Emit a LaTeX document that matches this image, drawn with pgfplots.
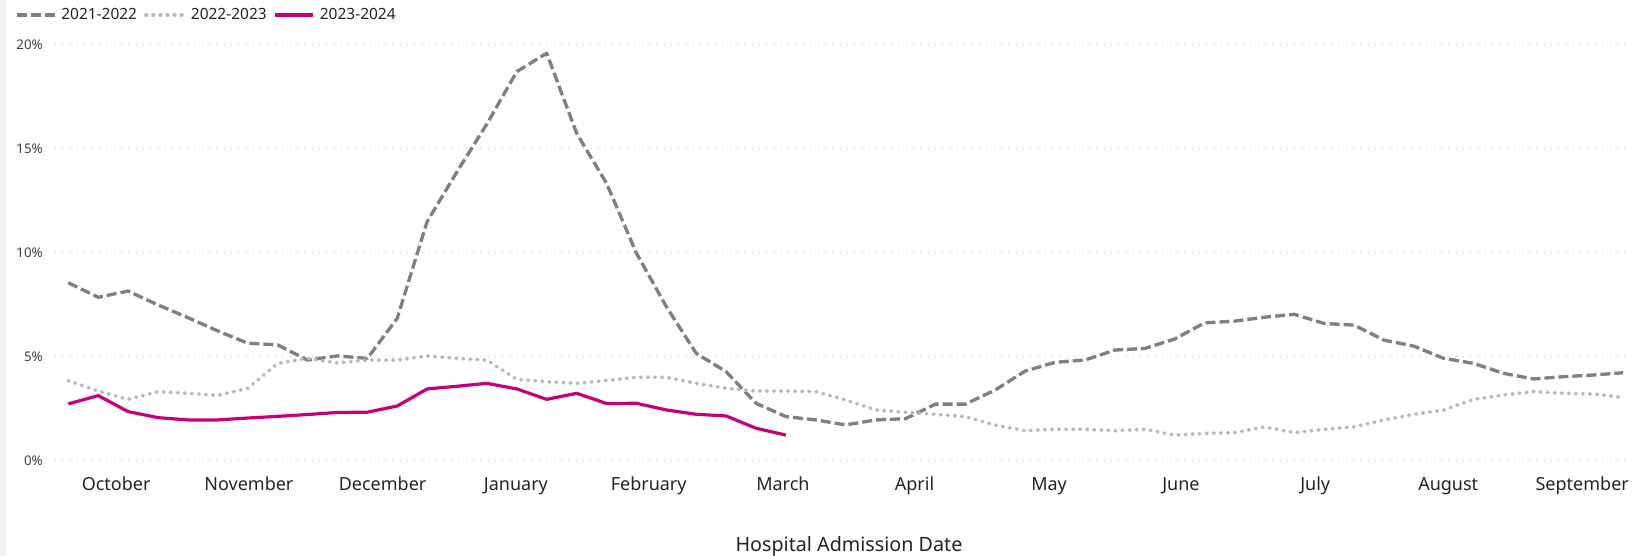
\documentclass[border=0pt]{standalone}
\usepackage{fontspec}
\setmainfont{Noto Sans}
\usepackage{pgfplots}
\pgfplotsset{compat=1.18}
\definecolor{cA}{HTML}{808080}
\definecolor{cB}{HTML}{B8B8B8}
\definecolor{cC}{HTML}{C80078}
\definecolor{gridc}{HTML}{C8C8C8}
\definecolor{strip}{HTML}{F0F1F3}
\definecolor{txt}{HTML}{252423}
\definecolor{tick}{HTML}{404040}
\begin{document}
\begin{tikzpicture}
\useasboundingbox (-41.25pt,-71.5pt) rectangle (1185pt,345.5pt);
\fill[strip] (-41.25pt,-71.5pt) rectangle (-36.75pt,345.5pt);
\begin{axis}[
  at={(0pt,0pt)}, anchor=south west, scale only axis,
  width=1181.25pt, height=311.8pt,
  xmin=-0.445, xmax=52.23, ymin=0, ymax=20,
  clip=false,
  axis line style={draw=none},
  major tick length=0pt, tick style={draw=none},
  ytick={0,5,10,15,20},
  yticklabels={0\%,5\%,10\%,15\%,20\%},
  yticklabel style={anchor=east, inner sep=0pt, xshift=-9pt, font=\fontsize{10}{12}\selectfont, text=tick},
  xtick={1.60,6.04,10.51,14.97,19.41,23.90,28.30,32.80,37.21,41.70,46.15,50.63},
  xticklabels={October,November,December,January,February,March,April,May,June,July,August,September},
  xticklabel style={anchor=base, inner sep=0pt, yshift=-22.7pt, font=\fontsize{13.5}{16}\selectfont, text=txt},
  ymajorgrids,
  grid style={color=gridc, line width=0.8pt, dash pattern=on 0.8pt off 4.7pt},
  xlabel={Hospital Admission Date},
  xlabel style={at={(rel axis cs:0.5041,0)}, anchor=base, inner sep=0pt, yshift=-68.25pt, font=\fontsize{14.8}{18}\selectfont, text=txt},
  legend columns=3,
  legend style={at={(rel axis cs:-0.02984,1.0720)}, anchor=west, draw=none, fill=none, inner sep=0pt, outer sep=0pt, column sep=0pt,
    nodes={inner sep=0pt, font=\fontsize{11.6}{14}\selectfont, text=txt}},
  legend image code/.code={\path (-5.25pt,0pt); \draw[#1] (0pt,0pt) -- (28.5pt,0pt); \path (32.25pt,0pt);},
  every axis plot/.append style={line join=round},
]
\addplot[color=cA, line width=2.5pt, dash pattern=on 7.5pt off 3pt] coordinates {
(0,8.56)(1,7.86)(2,8.16)(3,7.49)(4,6.88)(5,6.24)(6,5.65)(7,5.57)(8,4.84)(9,5.04)
(10,4.92)(11,6.85)(12,11.5)(13,13.9)(14,16.2)(15,18.72)(16,19.6)(17,15.75)(18,13.34)(19,9.98)
(20,7.41)(21,5.16)(22,4.28)(23,2.76)(24,2.12)(25,1.96)(26,1.72)(27,1.96)(28,2.02)(29,2.72)
(30,2.72)(31,3.40)(32,4.31)(33,4.73)(34,4.84)(35,5.32)(36,5.40)(37,5.85)(38,6.63)(39,6.71)
(40,6.90)(41,7.04)(42,6.60)(43,6.52)(44,5.80)(45,5.51)(46,4.92)(47,4.68)(48,4.20)(49,3.93)
(50,4.04)(51,4.12)(52,4.23)};
\addlegendentry{2021-2022}
\addplot[color=cB, line width=2.9pt, line cap=round, dash pattern=on 0.4pt off 4.9pt] coordinates {
(0,3.85)(1,3.35)(2,2.95)(3,3.32)(4,3.24)(5,3.14)(6,3.48)(7,4.68)(8,4.92)(9,4.70)
(10,4.84)(11,4.84)(12,5.04)(13,4.92)(14,4.84)(15,3.91)(16,3.80)(17,3.72)(18,3.86)(19,4.01)
(20,4.01)(21,3.72)(22,3.48)(23,3.35)(24,3.35)(25,3.32)(26,2.92)(27,2.44)(28,2.33)(29,2.23)
(30,2.12)(31,1.71)(32,1.44)(33,1.51)(34,1.51)(35,1.44)(36,1.51)(37,1.23)(38,1.31)(39,1.35)
(40,1.62)(41,1.35)(42,1.51)(43,1.63)(44,1.96)(45,2.23)(46,2.44)(47,2.95)(48,3.16)(49,3.32)
(50,3.24)(51,3.21)(52,3.04)};
\addlegendentry{2022-2023}
\addplot[color=cC, line width=2.4pt] coordinates {
(0,2.73)(1,3.13)(2,2.36)(3,2.07)(4,1.96)(5,1.96)(6,2.05)(7,2.13)(8,2.22)(9,2.32)
(10,2.33)(11,2.63)(12,3.45)(13,3.58)(14,3.72)(15,3.45)(16,2.95)(17,3.24)(18,2.75)(19,2.76)
(20,2.44)(21,2.23)(22,2.15)(23,1.56)(24,1.23)};
\addlegendentry{2023-2024}
\end{axis}
\end{tikzpicture}
\end{document}
